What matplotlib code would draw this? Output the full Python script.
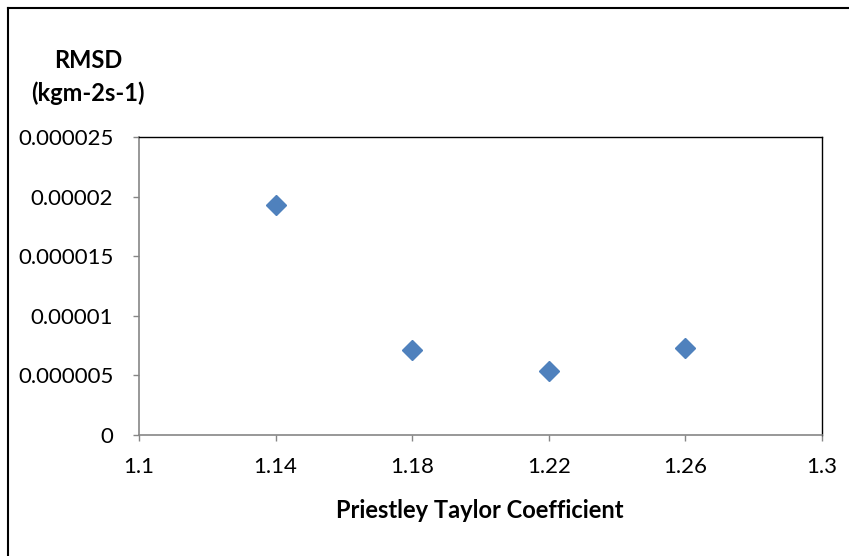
import matplotlib
matplotlib.use('Agg')
import matplotlib.pyplot as plt
from matplotlib.lines import Line2D

# Priestley-Taylor coefficient vs RMSD
coef = [1.14, 1.18, 1.22, 1.26]
rmsd = [1.93e-5, 7.1e-6, 5.35e-6, 7.3e-6]

xticks = [1.1, 1.14, 1.18, 1.22, 1.26, 1.3]
xtick_labels = ['1.1', '1.14', '1.18', '1.22', '1.26', '1.3']
yticks = [0, 5e-6, 1e-5, 1.5e-5, 2e-5, 2.5e-5]
ytick_labels = ['0', '0.000005', '0.00001', '0.000015', '0.00002', '0.000025']

plt.rcParams['font.family'] = ['Lato', 'DejaVu Sans']

W, H = 849, 556
fig = plt.figure(figsize=(W / 100, H / 100), dpi=100)
ax = fig.add_axes([139 / W, 1 - 435 / H, (822 - 139) / W, (435 - 137) / H])

ax.plot(coef, rmsd, linestyle='none', marker='D', markersize=10.5,
        color='#4F81BD', markeredgecolor='#4F81BD')

ax.set_xlim(1.1, 1.3)
ax.set_ylim(0, 2.5e-5)
ax.set_xticks(xticks)
ax.set_xticklabels(xtick_labels)
ax.set_yticks(yticks)
ax.set_yticklabels(ytick_labels)
ax.tick_params(axis='both', labelsize=16, color='#868686', length=4.5, width=1)
ax.tick_params(axis='x', pad=11)
ax.tick_params(axis='y', pad=14)

for side in ['left', 'bottom']:
    ax.spines[side].set_color('#868686')
    ax.spines[side].set_linewidth(1.2)
for side in ['top', 'right']:
    ax.spines[side].set_color('black')
    ax.spines[side].set_linewidth(1.0)

fig.text(480 / W, 1 - 510 / H, 'Priestley Taylor Coefficient',
         ha='center', va='center', fontsize=17, fontweight='bold')
fig.text(88 / W, 1 - 77 / H, 'RMSD\n(kgm-2s-1)', ha='center', va='center',
         fontsize=17, fontweight='bold', linespacing=1.45)

# outer chart border (top and left edges)
fig.add_artist(Line2D([8 / W, 8 / W], [0, 1 - 8 / H], transform=fig.transFigure,
                      color='black', linewidth=1.5))
fig.add_artist(Line2D([8 / W, 1], [1 - 8 / H, 1 - 8 / H], transform=fig.transFigure,
                      color='black', linewidth=1.5))

fig.savefig('out.png', dpi=100)
